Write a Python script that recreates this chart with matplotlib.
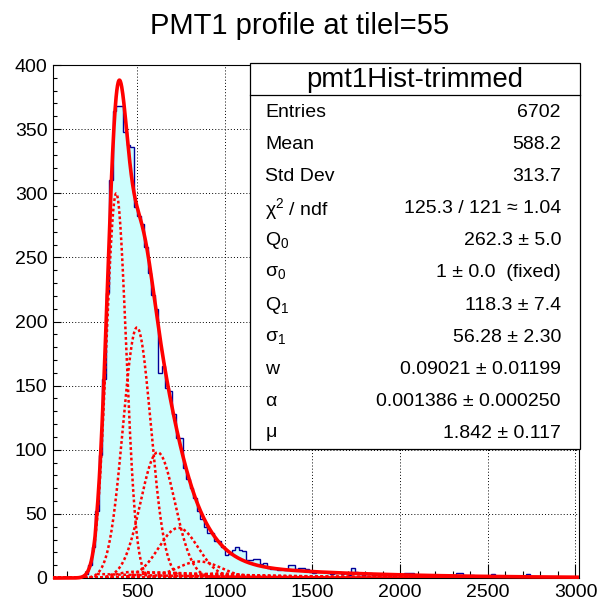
import math
import numpy as np
import matplotlib
matplotlib.use('Agg')
import matplotlib.pyplot as plt
from matplotlib.patches import Rectangle
from matplotlib.lines import Line2D
from matplotlib.ticker import MultipleLocator

plt.rcParams['font.family'] = ['Liberation Sans', 'DejaVu Sans']
plt.rcParams['mathtext.fontset'] = 'custom'
plt.rcParams['mathtext.rm'] = 'Liberation Sans'
plt.rcParams['mathtext.it'] = 'Liberation Sans:italic'

# ---------------- data ----------------
chart_title = "PMT1 profile at tilel=55"
bin_low = 20
bin_width = 20
counts = [
    0, 0, 0, 0, 0, 0, 0, 0, 1, 3,
    10, 24, 52, 96, 155, 222, 310, 364, 368, 368,
    348, 338, 336, 289, 282, 276, 258, 238, 221, 210,
    160, 165, 148, 146, 128, 109, 109, 86, 77, 70,
    62, 52, 46, 40, 35, 35, 29, 29, 24, 18,
    19, 22, 24, 22, 21, 14, 14, 15, 15, 11,
    12, 8, 7, 7, 6, 7, 6, 10, 10, 7,
    8, 8, 7, 5, 4, 5, 5, 5, 4, 3,
    4, 5, 3, 4, 2, 8, 5, 3, 2, 3,
    4, 2, 3, 2, 3, 2, 1, 2, 3, 2,
    4, 4, 4, 2, 1, 2, 1, 2, 2, 1,
    2, 1, 1, 2, 1, 4, 4, 1, 1, 2,
    0, 1, 1, 0, 1, 3, 1, 0, 1, 1,
    0, 1, 0, 1, 0, 3, 1, 0, 1, 0,
    1, 0, 0, 1, 0, 0, 1, 0, 0, 0,
]
x_ticks = [500, 1000, 1500, 2000, 2500, 3000]
y_ticks = [0, 50, 100, 150, 200, 250, 300, 350, 400]

stats_title = "pmt1Hist-trimmed"
stats_labels = ["Entries", "Mean", "Std Dev", r"$\mathregular{\chi^2}$ / ndf",
                r"$\mathregular{Q_0}$", r"$\mathregular{\sigma_0}$",
                r"$\mathregular{Q_1}$", r"$\mathregular{\sigma_1}$",
                "w", r"$\mathregular{\alpha}$", r"$\mathregular{\mu}$"]
stats_values = ["6702", "588.2", "313.7", "125.3 / 121 \u2248 1.04",
                "262.3 \u00b1 5.0", "1 \u00b1 0.0  (fixed)", "118.3 \u00b1 7.4",
                "56.28 \u00b1 2.30", "0.09021 \u00b1 0.01199",
                "0.001386 \u00b1 0.000250", "1.842 \u00b1 0.117"]

# fit parameters (from the stats box)
Q0, s0, Q1, s1 = 262.3, 1.0, 118.3, 56.28
w, alpha, mu = 0.09021, 0.001386, 1.842
fit_norm = 159300.0
n_gauss = [1, 2, 3, 4, 5, 6, 7]
n_bg = [0, 1, 2, 3, 4, 5, 6]
fit_range = (20, 3020)

# ---------------- fit model ----------------
erfc = np.vectorize(math.erfc)


def pois(n):
    return math.exp(-mu) * mu ** n / math.factorial(n)


def gauss_comp(x, n):
    sn = math.sqrt(s0 ** 2 + n * s1 ** 2)
    qn = Q0 + n * Q1
    return fit_norm * (1 - w) * pois(n) / (sn * math.sqrt(2 * math.pi)) * \
        np.exp(-(x - qn) ** 2 / (2 * sn ** 2))


def bg_comp(x, n):
    sn = math.sqrt(s0 ** 2 + n * s1 ** 2)
    qn = Q0 + n * Q1
    arg = alpha * alpha * sn * sn / 2 - alpha * (x - qn)
    return fit_norm * w * pois(n) * (alpha / 2) * np.exp(arg) * \
        erfc((alpha * sn * sn - (x - qn)) / (math.sqrt(2) * sn))


xf = np.linspace(fit_range[0], fit_range[1], 1501)
g_curves = [gauss_comp(xf, n) for n in n_gauss]
b_curves = [bg_comp(xf, n) for n in n_bg]
total = np.sum(g_curves, axis=0) + np.sum(b_curves, axis=0)

# ---------------- figure ----------------
W, H = 599, 605
fig = plt.figure(figsize=(W / 100, H / 100), dpi=100)


def fxp(px):
    return px / W


def fyp(py):
    return 1 - py / H


ax_l, ax_r, ax_t, ax_b = 53, 579, 65, 578
ax = fig.add_axes([fxp(ax_l), fyp(ax_b), (ax_r - ax_l) / W, (ax_b - ax_t) / H])

edges = bin_low + bin_width * np.arange(len(counts) + 1)
ax.stairs(counts, edges, fill=True, color='#ccfdfd', zorder=2, linewidth=0)
ax.stairs(counts, edges, color='#000099', linewidth=1.0, zorder=3)

dot = (0, (1.1, 1.0))
for c in g_curves + b_curves:
    ax.plot(xf, c, color='#ff0000', linewidth=1.8, linestyle=dot, zorder=4)
ax.plot(xf, total, color='#ff0000', linewidth=2.6, zorder=5, clip_on=False,
        solid_capstyle='butt')

ax.set_xlim(fit_range[0], fit_range[1])
ax.set_ylim(0, 400)
ax.set_xticks(x_ticks)
ax.set_xticklabels([str(t) for t in x_ticks])
ax.set_yticks(y_ticks)
ax.set_yticklabels([str(t) for t in y_ticks])
ax.xaxis.set_minor_locator(MultipleLocator(100))
ax.yaxis.set_minor_locator(MultipleLocator(10))
ax.tick_params(axis='x', which='major', direction='in', length=10, width=0.8,
               labelsize=14, pad=4, top=False)
ax.tick_params(axis='x', which='minor', direction='in', length=5, width=0.8, top=False)
ax.tick_params(axis='y', which='major', direction='in', length=5.5, width=0.8,
               labelsize=14, pad=4, right=False)
ax.tick_params(axis='y', which='minor', direction='in', length=3, width=0.8, right=False)
for s in ax.spines.values():
    s.set_linewidth(0.8)
ax.set_axisbelow(True)
ax.grid(which='major', color='black', linestyle=(0, (1, 2.2)), linewidth=0.7, zorder=1)

fig.text(fxp(300), fyp(26), chart_title, fontsize=21, ha='center', va='center')

# ---------------- stats box ----------------
bx_l, bx_r, bx_t, bx_b = 250, 580, 62.5, 449
sep = 95
fig.patches.append(Rectangle((fxp(bx_l), fyp(bx_b)), (bx_r - bx_l) / W, (bx_b - bx_t) / H,
                             transform=fig.transFigure, facecolor='white',
                             edgecolor='black', linewidth=0.9, zorder=10))
fig.lines.append(Line2D([fxp(bx_l), fxp(bx_r)], [fyp(sep), fyp(sep)],
                        transform=fig.transFigure, color='black', linewidth=0.9, zorder=11))
fig.text(fxp((bx_l + bx_r) / 2), fyp((bx_t + sep) / 2 + 1), stats_title, fontsize=19.8,
         ha='center', va='center', zorder=12)
row_h = (bx_b - sep) / len(stats_labels)
for i, (lab, val) in enumerate(zip(stats_labels, stats_values)):
    yc = sep + row_h * (i + 0.5) + 1
    fig.text(fxp(265), fyp(yc), lab, fontsize=14, ha='left', va='center', zorder=12)
    fig.text(fxp(561), fyp(yc), val, fontsize=14, ha='right', va='center', zorder=12)

fig.savefig('out.png', dpi=100)
